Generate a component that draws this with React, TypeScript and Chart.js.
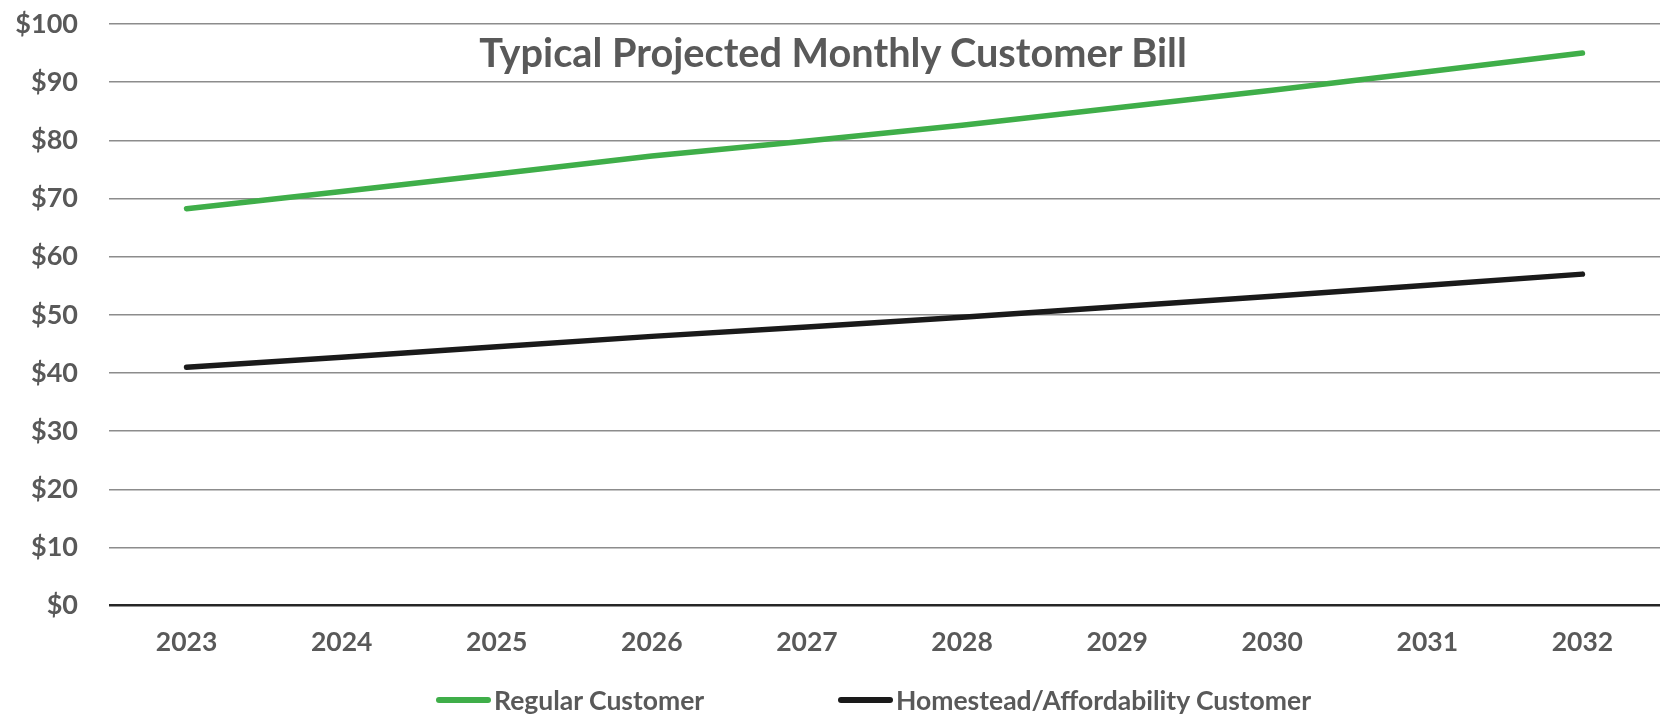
import React, { useEffect, useRef } from "react";
import { Chart, registerables } from "chart.js";

Chart.register(...registerables);

const years: string[] = ["2023", "2024", "2025", "2026", "2027", "2028", "2029", "2030", "2031", "2032"];
const regularCustomer: number[] = [68.25, 71.2, 74.2, 77.3, 79.9, 82.6, 85.6, 88.6, 91.8, 95.0];
const homesteadCustomer: number[] = [41.0, 42.7, 44.5, 46.3, 47.9, 49.6, 51.4, 53.2, 55.1, 57.0];
const yTicks = { min: 0, max: 100, step: 10 };
const titleText = "Typical Projected Monthly Customer Bill";
const seriesNames: string[] = ["Regular Customer", "Homestead/Affordability Customer"];
const seriesColors: string[] = ["#3fae49", "#1a1a1a"];

const FONT = "Lato, 'Open Sans', sans-serif";
const TEXT = "#595959";

export default function App() {
  const ref = useRef<HTMLCanvasElement | null>(null);

  useEffect(() => {
    if (!ref.current) return;
    const chart = new Chart(ref.current, {
      type: "line",
      data: {
        labels: years,
        datasets: [
          {
            label: seriesNames[0],
            data: regularCustomer,
            borderColor: seriesColors[0],
            backgroundColor: seriesColors[0],
            borderWidth: 5.5,
            pointRadius: 0,
            tension: 0,
            borderCapStyle: "round",
          },
          {
            label: seriesNames[1],
            data: homesteadCustomer,
            borderColor: seriesColors[1],
            backgroundColor: seriesColors[1],
            borderWidth: 5.5,
            pointRadius: 0,
            tension: 0,
            borderCapStyle: "round",
          },
        ],
      },
      options: {
        responsive: false,
        animation: false,
        layout: { padding: { top: 24, right: 0, bottom: 0, left: 0 } },
        plugins: {
          legend: { display: false },
          title: { display: false },
          tooltip: { enabled: false },
        },
        scales: {
          x: {
            offset: true,
            grid: { display: false, drawTicks: false },
            border: { display: false },
            ticks: {
              color: TEXT,
              padding: 21,
              font: { family: FONT, size: 26.5, weight: "bold" },
              maxRotation: 0,
            },
            afterFit: (scale: any) => {
              scale.height = 110.3;
              scale.paddingLeft = 0;
              scale.paddingRight = 0;
            },
          },
          y: {
            min: yTicks.min,
            max: yTicks.max,
            border: { display: false },
            grid: {
              drawTicks: false,
              color: (ctx: any) => (ctx.tick && ctx.tick.value === 0 ? "#262626" : "#8c8c8c"),
              lineWidth: (ctx: any) => (ctx.tick && ctx.tick.value === 0 ? 2.5 : 1.6),
            },
            ticks: {
              stepSize: yTicks.step,
              color: TEXT,
              padding: 31,
              font: { family: FONT, size: 27, weight: "bold" },
              callback: (v: any) => "$" + v,
            },
            afterFit: (scale: any) => {
              scale.width = 109;
              scale.paddingTop = 0;
              scale.paddingBottom = 0;
            },
          },
        },
      },
    });
    return () => chart.destroy();
  }, []);

  const legendText: React.CSSProperties = {
    fontFamily: FONT,
    fontWeight: 700,
    fontSize: 26.5,
    lineHeight: "28px",
    color: TEXT,
    whiteSpace: "nowrap",
  };

  return (
    <div style={{ position: "absolute", left: 0, top: 0, width: 1660, height: 716, background: "#ffffff" }}>
      <canvas ref={ref} width={1660} height={716} style={{ display: "block", width: 1660, height: 716 }} />
      <div
        style={{
          position: "absolute",
          left: 0,
          top: 32,
          width: 1666,
          textAlign: "center",
          fontFamily: FONT,
          fontWeight: 700,
          fontSize: 39.7,
          lineHeight: "40px",
          color: TEXT,
          whiteSpace: "nowrap",
        }}
      >
        {titleText}
      </div>
      {seriesNames.map((name, i) => (
        <div
          key={name}
          style={{
            position: "absolute",
            left: i === 0 ? 436 : 838,
            top: 686,
            height: 28,
            display: "flex",
            alignItems: "center",
          }}
        >
          <span
            style={{
              display: "inline-block",
              width: 55,
              height: 6,
              borderRadius: 3,
              background: seriesColors[i],
              marginRight: 3,
            }}
          />
          <span style={legendText}>{name}</span>
        </div>
      ))}
    </div>
  );
}
